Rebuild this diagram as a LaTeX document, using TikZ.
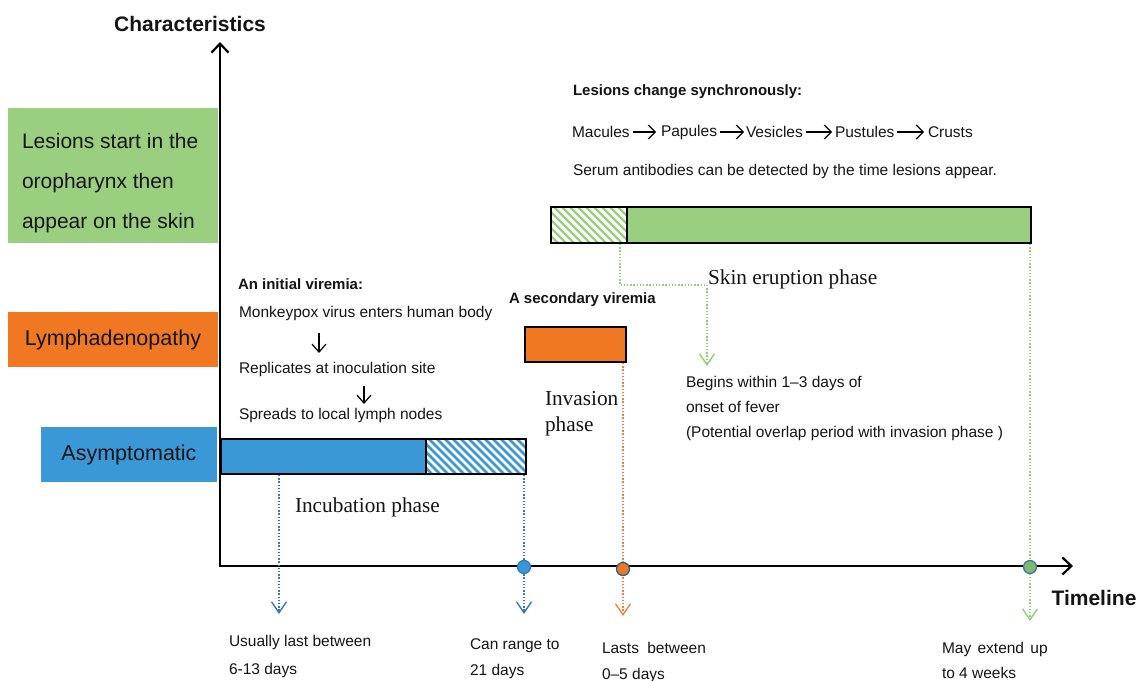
\documentclass[tikz,border=0pt]{standalone}
\usepackage{fontspec}
\setmainfont{Liberation Sans}
\newfontfamily\serifed{Liberation Serif}
\usetikzlibrary{arrows.meta}
\definecolor{gC}{HTML}{9BCF80}
\definecolor{oC}{HTML}{F07822}
\definecolor{bC}{HTML}{3A98D7}
\definecolor{bD}{HTML}{3479BD}
\definecolor{oD}{HTML}{F0803A}
\definecolor{gD}{HTML}{8FD070}
\definecolor{txtC}{HTML}{141414}
\begin{document}
\begin{tikzpicture}[x=1pt,y=-1pt,
  every node/.style={inner sep=0pt, outer sep=0pt, text=txtC},
  txt/.style={font=\fontsize{15.5}{25}\selectfont, anchor=west, align=left},
  btxt/.style={font=\bfseries\fontsize{15}{18}\selectfont, anchor=west},
  ttl/.style={font=\bfseries\fontsize{21}{24}\selectfont},
  serifl/.style={font=\serifed\fontsize{21.3}{26}\selectfont, anchor=west, align=left},
  catbox/.style={anchor=north west, font=\fontsize{21.5}{40}\selectfont},
  bar/.style={draw=black, line width=1.8pt, anchor=north west, minimum height=35},
  stripe/.style={line width=2.6pt},
  axisline/.style={line width=2.6pt, line join=miter, {Straight Barb[length=9pt,width=17pt,line width=2.2pt]}-{Straight Barb[length=9pt,width=17pt,line width=2.2pt]}},
  dotline/.style={line width=1.6pt, dash pattern=on 1.4pt off 1.8pt},
  dotarrow/.style={dotline, -{Straight Barb[length=11pt,width=15pt,line width=1.4pt]}},
  sarrow/.style={line width=1.2pt, -{Straight Barb[length=8pt,width=14pt,line width=1.2pt]}},
  flow/.style={line width=1.2pt, -{Straight Barb[length=7pt,width=14pt,line width=1.2pt]}},
  axmark/.style={circle, line width=1.3pt, minimum size=13pt}
]
\useasboundingbox (0,0) rectangle (1143,680);

% category boxes
\node[catbox, fill=gC, minimum width=210, minimum height=135] (les) at (8,108) {};
\node[anchor=west, align=left, font=\fontsize{21}{40}\selectfont] (lestxt) at (22,183) {Lesions start in the\\oropharynx then\\appear on the skin};
\node[catbox, fill=oC, minimum width=210, minimum height=55] (lym) at (8,312) {Lymphadenopathy};
\node[catbox, fill=bC, minimum width=176, minimum height=55] (asy) at (41,427) {Asymptomatic};

% axes
\coordinate (ytop) at (220,42);
\coordinate (O) at (220,566);
\coordinate (xend) at (1073,566);
\draw[axisline] (ytop) -- (O) -- (xend);
\node[ttl] (char) at (190,24) {Characteristics};
\node[ttl] (timel) at (1094,598) {Timeline};

% bars
\node[bar, fill=bC, minimum width=205] (incS) at (221,439) {};
\node[bar, fill=white, minimum width=100] (incH) at (426,439) {};
\begin{scope}
  \clip (incH.north west) rectangle (incH.south east);
  \foreach \i in {-50,-42,...,110} {
    \path (incH.north west) ++(\i,-5) coordinate (hb);
    \draw[stripe, bC] (hb) -- ++(50,50);
  }
\end{scope}
\draw[line width=1.8pt] (incH.north west) rectangle (incH.south east);
\node[bar, fill=oC, minimum width=101] (inv) at (525,327) {};
\node[bar, fill=white, minimum width=76, minimum height=36] (skH) at (551,207) {};
\begin{scope}
  \clip (skH.north west) rectangle (skH.south east);
  \foreach \i in {-50,-42,...,90} {
    \path (skH.north west) ++(\i,-5) coordinate (hg);
    \draw[stripe, gC, line width=2.3pt] (hg) -- ++(50,50);
  }
\end{scope}
\draw[line width=1.8pt] (skH.north west) rectangle (skH.south east);
\node[bar, fill=gC, minimum width=404, minimum height=36] (skS) at (627,207) {};

% top texts
\node[btxt] (lcs) at (573,92) {Lesions change synchronously:};
\node[txt] (mac) at (572,132) {Macules};
\node[txt] (pap) at (661,132) {Papules};
\node[txt] (ves) at (746,132) {Vesicles};
\node[txt] (pus) at (835,132) {Pustules};
\node[txt] (cru) at (928,132) {Crusts};
\draw[flow] ([xshift=3pt]mac.east) -- ([xshift=-5pt]pap.west);
\draw[flow] ([xshift=3pt]pap.east) -- ([xshift=-2pt]ves.west);
\draw[flow] ([xshift=3pt]ves.east) -- ([xshift=-3pt]pus.west);
\draw[flow] ([xshift=3pt]pus.east) -- ([xshift=-4pt]cru.west);
\node[txt] (ser) at (573,171) {Serum antibodies can be detected by the time lesions appear.};

% initial viremia
\node[btxt] (ini) at (238,284) {An initial viremia:};
\node[txt] (mon) at (239,313) {Monkeypox virus enters human body};
\node[txt] (rep) at (239,369) {Replicates at inoculation site};
\node[txt] (spr) at (239,415) {Spreads to local lymph nodes};
\coordinate (a1s) at (319,333); \coordinate (a1e) at (319,353);
\coordinate (a2s) at (364,386); \coordinate (a2e) at (364,404);
\draw[sarrow] (a1s) -- (a1e);
\draw[sarrow] (a2s) -- (a2e);
\node[btxt] (sec) at (509,300) {A secondary viremia};

% phase labels
\node[serifl] (incp) at (295,507) {Incubation phase};
\node[serifl] (invp) at (545,414) {Invasion\\phase};
\node[serifl] (skp) at (708,279) {Skin eruption phase};
\node[txt] (beg) at (686,408) {Begins within 1–3 days of\\onset of fever\\(Potential overlap period with invasion phase )};

% dotted connectors
\coordinate (g1) at (620,244);
\coordinate (g2) at (707,285);
\coordinate (g3) at (707,366);
\draw[dotline, gD] (g1) |- (g2);
\draw[dotarrow, gD] (g2) -- (g3);

\coordinate (b1s) at (279,475); \coordinate (b1e) at (279,614);
\coordinate (b2s) at (524,475); \coordinate (b2e) at (524,614);
\coordinate (o1s) at (623,363); \coordinate (o1e) at (623,616);
\coordinate (gv1s) at (1030,244); \coordinate (gv1e) at (1030,621);
\draw[dotarrow, bD] (b1s) -- (b1e);
\draw[dotarrow, bD] (b2s) -- (b2e);
\draw[dotarrow, oD] (o1s) -- (o1e);
\draw[dotarrow, gD] (gv1s) -- (gv1e);
\node[axmark, fill=bC, draw=bD] (c1) at (524,567) {};
\node[axmark, fill=oC, draw=bD!80!black] (c2) at (623,569) {};
\node[axmark, fill=gD!90!black, draw=bD] (c3) at (1030,567) {};

% bottom texts
\node[txt, font=\fontsize{15.5}{28}\selectfont] (usu) at (229,656) {Usually last between\\6-13 days};
\node[txt, font=\fontsize{15.5}{26}\selectfont] (can) at (470,659) {Can range to\\21 days};
\node[txt, font=\fontsize{15.5}{26}\selectfont] (las) at (602,662) {Lasts\hspace{4pt} between\\0–5 days};
\node[txt, font=\fontsize{15.5}{25}\selectfont] (may) at (942,660) {May\hspace{2pt} extend\hspace{2pt} up\\to 4 weeks};
\end{tikzpicture}
\end{document}
